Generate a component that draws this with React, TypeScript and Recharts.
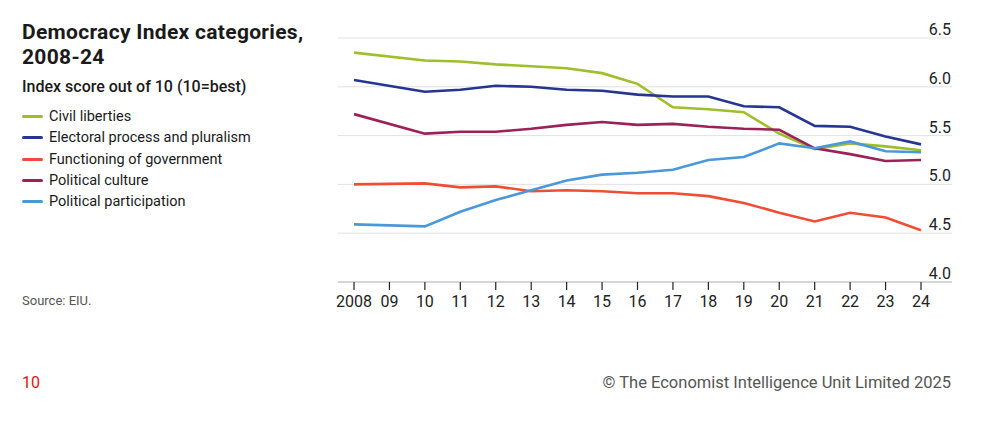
import React from 'react';
import { LineChart, Line, XAxis, YAxis, CartesianGrid } from 'recharts';

// years on the x axis (no survey in 2009, lines just join across it)
const years = [2008, 2009, 2010, 2011, 2012, 2013, 2014, 2015, 2016, 2017, 2018, 2019, 2020, 2021, 2022, 2023, 2024];
const yearLabels = ['2008', '09', '10', '11', '12', '13', '14', '15', '16', '17', '18', '19', '20', '21', '22', '23', '24'];
const yTicks = [4.0, 4.5, 5.0, 5.5, 6.0, 6.5];

const civilLiberties = [6.35, null, 6.27, 6.26, 6.23, 6.21, 6.19, 6.14, 6.03, 5.79, 5.77, 5.74, 5.52, 5.36, 5.42, 5.39, 5.35];
const electoralProcess = [6.07, null, 5.95, 5.97, 6.01, 6.0, 5.97, 5.96, 5.92, 5.9, 5.9, 5.8, 5.79, 5.6, 5.59, 5.49, 5.41];
const functioningGov = [5.0, null, 5.01, 4.97, 4.98, 4.93, 4.94, 4.93, 4.91, 4.91, 4.88, 4.81, 4.71, 4.62, 4.71, 4.66, 4.53];
const politicalCulture = [5.72, null, 5.52, 5.54, 5.54, 5.57, 5.61, 5.64, 5.61, 5.62, 5.59, 5.57, 5.56, 5.37, 5.31, 5.24, 5.25];
const politicalParticipation = [4.59, null, 4.57, 4.72, 4.84, 4.94, 5.04, 5.1, 5.12, 5.15, 5.25, 5.28, 5.42, 5.37, 5.44, 5.34, 5.33];

const series = [
  { key: 'civil', name: 'Civil liberties', color: '#9fbe2b', values: civilLiberties },
  { key: 'electoral', name: 'Electoral process and pluralism', color: '#26358f', values: electoralProcess },
  { key: 'functioning', name: 'Functioning of government', color: '#f04d35', values: functioningGov },
  { key: 'culture', name: 'Political culture', color: '#9c2158', values: politicalCulture },
  { key: 'participation', name: 'Political participation', color: '#4a98d9', values: politicalParticipation },
];

const data = years.map((year, i) => {
  const row: Record<string, number | null> = { year };
  series.forEach((s) => {
    row[s.key] = s.values[i];
  });
  return row;
});

const FONT = 'Roboto, "Liberation Sans", sans-serif';

// value labels sit just above their gridline, flush with its right end
const renderYTick = (props: any) => {
  const { y, payload } = props;
  return (
    <text x={951} y={y - 3} textAnchor="end" fontSize={16} fill="#222" fontFamily={FONT}>
      {Number(payload.value).toFixed(1)}
    </text>
  );
};

export default function App() {
  return (
    <div
      style={{
        position: 'absolute',
        left: 0,
        top: 0,
        width: 999,
        height: 424,
        background: '#fff',
        fontFamily: FONT,
        color: '#1a1a1a',
      }}
    >
      <div style={{ position: 'absolute', left: 22, top: 20, fontSize: 21, fontWeight: 700, lineHeight: '25px', letterSpacing: 0.3 }}>
        Democracy Index categories,
        <br />
        2008-24
      </div>
      <div style={{ position: 'absolute', left: 22, top: 77, fontSize: 16, fontWeight: 500 }}>
        Index score out of 10 (10=best)
      </div>
      <div style={{ position: 'absolute', left: 22, top: 106 }}>
        {series.map((s) => (
          <div key={s.key} style={{ display: 'flex', alignItems: 'center', height: 21.3, fontSize: 14.5 }}>
            <span style={{ display: 'inline-block', width: 21, height: 3, borderRadius: 2, background: s.color, marginRight: 6 }} />
            {s.name}
          </div>
        ))}
      </div>
      <div style={{ position: 'absolute', left: 22, top: 293, fontSize: 13, color: '#555' }}>Source: EIU.</div>
      <div style={{ position: 'absolute', left: 22, top: 373, fontSize: 16, color: '#e3120b' }}>10</div>
      <div style={{ position: 'absolute', right: 48, top: 373, fontSize: 16.5, color: '#555' }}>
        © The Economist Intelligence Unit Limited 2025
      </div>

      <div style={{ position: 'absolute', left: 0, top: 0 }}>
        <LineChart width={999} height={424} data={data} margin={{ top: 38, left: 338, right: 47, bottom: 112 }}>
          <CartesianGrid horizontal vertical={false} stroke="#e2e2e2" />
          <XAxis
            dataKey="year"
            type="number"
            domain={[2008, 2024]}
            ticks={years}
            tickFormatter={(v: number) => yearLabels[years.indexOf(v)]}
            padding={{ left: 16, right: 31 }}
            height={30}
            tickSize={8}
            tickMargin={6}
            axisLine={{ stroke: '#d6d6d6', strokeWidth: 2 }}
            tickLine={{ stroke: '#222', strokeWidth: 1.2 }}
            tick={{ fontSize: 16, fill: '#222', fontFamily: FONT }}
            interval={0}
          />
          <YAxis
            orientation="right"
            mirror
            domain={[4, 6.5]}
            ticks={yTicks}
            axisLine={false}
            tickLine={false}
            tick={renderYTick}
          />
          {series.map((s) => (
            <Line
              key={s.key}
              dataKey={s.key}
              name={s.name}
              stroke={s.color}
              strokeWidth={2.6}
              dot={false}
              connectNulls
              type="linear"
              isAnimationActive={false}
            />
          ))}
        </LineChart>
      </div>
    </div>
  );
}
